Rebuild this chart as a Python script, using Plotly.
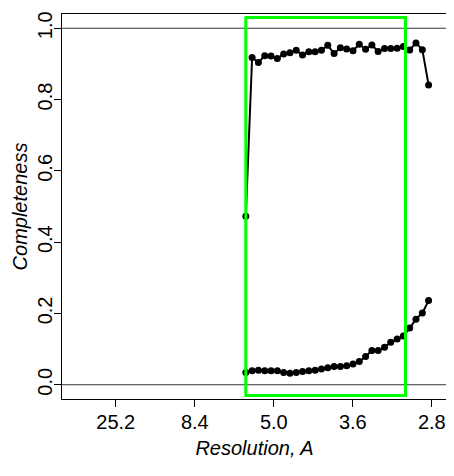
import plotly.graph_objects as go

# Resolution bins (Angstrom)
resolution = [5.872, 5.662, 5.466, 5.283, 5.112, 4.952, 4.801, 4.660, 4.526, 4.400,
              4.281, 4.168, 4.061, 3.959, 3.862, 3.770, 3.682, 3.598, 3.518, 3.441,
              3.368, 3.298, 3.230, 3.166, 3.103, 3.044, 2.986, 2.931, 2.877, 2.826]
completeness_high = [0.473, 0.918, 0.904, 0.923, 0.922, 0.915, 0.928, 0.931, 0.938, 0.925,
                     0.934, 0.934, 0.938, 0.952, 0.929, 0.945, 0.942, 0.937, 0.955, 0.941,
                     0.953, 0.935, 0.943, 0.943, 0.944, 0.949, 0.939, 0.959, 0.940, 0.841]
completeness_low = [0.034, 0.039, 0.041, 0.039, 0.039, 0.039, 0.034, 0.032, 0.034, 0.037,
                    0.039, 0.041, 0.044, 0.048, 0.051, 0.051, 0.053, 0.058, 0.065, 0.079,
                    0.096, 0.096, 0.105, 0.119, 0.128, 0.137, 0.159, 0.184, 0.201, 0.236]
tick_resolution = [25.2, 8.4, 5.04, 3.6, 2.8]
tick_labels = ["25.2", "8.4", "5.0", "3.6", "2.8"]
y_ticks = [0.0, 0.2, 0.4, 0.6, 0.8, 1.0]
y_tick_labels = ["0.0", "0.2", "0.4", "0.6", "0.8", "1.0"]
ref_lines = [0.0, 1.0]
box_resolution = [5.872, 3.024]
box_completeness = [-0.03, 1.03]
x_limits = [0.0, 1 / 2.793]
y_limits = [0.0, 1.0]

inv = lambda v: [1.0 / r for r in v]

FONT = "Liberation Sans, Arial, Helvetica, sans-serif"

fig = go.Figure()
for series in (completeness_high, completeness_low):
    fig.add_trace(go.Scatter(
        x=inv(resolution), y=series, mode="lines+markers",
        line=dict(color="black", width=2),
        marker=dict(color="black", size=7),
        showlegend=False, hoverinfo="skip"))

for h in ref_lines:
    fig.add_shape(type="line", xref="paper", x0=0, x1=1, yref="y", y0=h, y1=h,
                  line=dict(color="#333333", width=1), layer="below")

bx = inv(box_resolution)
fig.add_shape(type="rect", xref="x", yref="y",
              x0=bx[0], x1=bx[1], y0=box_completeness[0], y1=box_completeness[1],
              line=dict(color="#00FF00", width=3), fillcolor="rgba(0,0,0,0)",
              layer="above")

xext = 0.04 * (x_limits[1] - x_limits[0])
yext = 0.04 * (y_limits[1] - y_limits[0])

# the page body adds an 8px offset, so the figure is 8px smaller and shifted
fig.update_layout(
    width=446, height=468,
    margin=dict(l=54, r=7, t=6, b=77),
    paper_bgcolor="white", plot_bgcolor="white",
    font=dict(family=FONT, size=20, color="black"),
    xaxis=dict(
        range=[x_limits[0] - xext, x_limits[1] + xext],
        tickmode="array", tickvals=inv(tick_resolution), ticktext=tick_labels,
        ticks="outside", ticklen=7, tickwidth=1, tickcolor="black",
        ticklabelstandoff=-2,
        showgrid=False, zeroline=False, automargin=False,
        showline=True, linecolor="black", linewidth=1, mirror=True,
        tickfont=dict(size=20),
        title=dict(text="<i>Resolution, A</i>", font=dict(size=20), standoff=8),
    ),
    yaxis=dict(
        range=[y_limits[0] - yext, y_limits[1] + yext],
        tickmode="array", tickvals=y_ticks, ticktext=y_tick_labels,
        ticks="outside", ticklen=7, tickwidth=1, tickcolor="black",
        tickangle=-90, ticklabelstandoff=-6,
        showgrid=False, zeroline=False, automargin=False,
        showline=True, linecolor="black", linewidth=1, mirror=True,
        tickfont=dict(size=20),
        title=dict(text="<i>Completeness</i>", font=dict(size=20), standoff=1),
    ),
)

fig.write_html("out.html")
